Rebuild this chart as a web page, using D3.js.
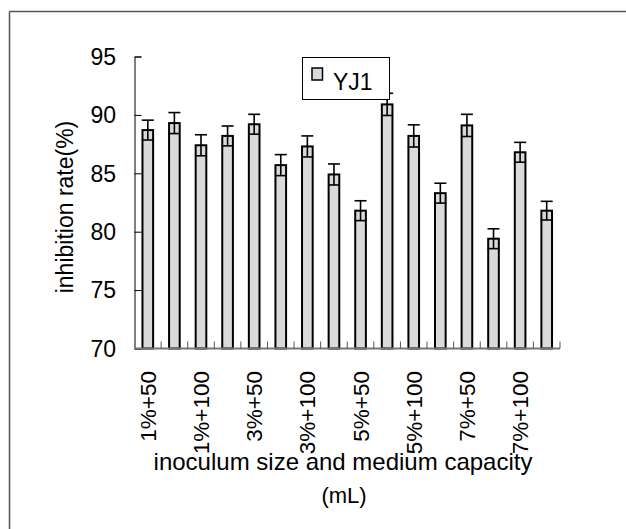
<!DOCTYPE html>
<html>
<head>
<meta charset="utf-8">
<script src="https://cdn.jsdelivr.net/npm/d3@7"></script>
<style>
  body { margin: 0; background: #fff; }
  svg { display: block; font-family: "Liberation Sans", Arial, sans-serif; }
</style>
</head>
<body>
<svg id="chart" width="626" height="529"></svg>
<script>
// 16 treatments, only every other one gets a label on the axis
const categories = [
  "1%+50", "1%+75", "1%+100", "1%+125",
  "3%+50", "3%+75", "3%+100", "3%+125",
  "5%+50", "5%+75", "5%+100", "5%+125",
  "7%+50", "7%+75", "7%+100", "7%+125"
];
const values = [88.7, 89.3, 87.4, 88.2, 89.2, 85.7, 87.3, 84.9,
                81.8, 90.9, 88.2, 83.3, 89.1, 79.4, 86.8, 81.8];
const errors = [0.85, 0.9, 0.9, 0.85, 0.85, 0.9, 0.9, 0.9,
                0.85, 0.95, 0.95, 0.85, 0.95, 0.85, 0.85, 0.8];
const yTicks = [70, 75, 80, 85, 90, 95];
const seriesName = "YJ1";

const svg = d3.select("#chart");

const x = d3.scaleBand()
  .domain(categories)
  .range([134.5, 560])
  .paddingInner(0.6)
  .paddingOuter(0.3);

const y = d3.scaleLinear()
  .domain([70, 95])
  .range([348.5, 56.5]);

// outer frame (only top/left edges are in the picture)
svg.append("line")
  .attr("x1", 9.5).attr("y1", 11.5).attr("x2", 626).attr("y2", 11.5)
  .attr("stroke", "#555").attr("stroke-width", 1.5);
svg.append("line")
  .attr("x1", 9.5).attr("y1", 11.5).attr("x2", 9.5).attr("y2", 529)
  .attr("stroke", "#555").attr("stroke-width", 1.5);

// y axis, ticks pointing inward
const yAxis = svg.append("g")
  .attr("transform", "translate(134.5,0)")
  .call(d3.axisRight(y).tickValues(yTicks).tickSize(7).tickFormat(""));
yAxis.select(".domain").attr("stroke", "#000");
yAxis.selectAll(".tick line").attr("stroke", "#000");

svg.append("g")
  .selectAll("text")
  .data(yTicks)
  .join("text")
  .attr("x", 116)
  .attr("y", d => y(d))
  .attr("dy", "0.36em")
  .attr("text-anchor", "end")
  .attr("font-size", 23)
  .text(d => d);

// bars
svg.append("g")
  .selectAll("rect")
  .data(values)
  .join("rect")
  .attr("x", (d, i) => x(categories[i]))
  .attr("y", d => y(d))
  .attr("width", x.bandwidth())
  .attr("height", d => y(70) - y(d))
  .attr("fill", "#dadada")
  .attr("stroke", "#000")
  .attr("stroke-width", 2);

// error bars
const capW = 12;
const err = svg.append("g").attr("stroke", "#000").attr("stroke-width", 1.6);
values.forEach((v, i) => {
  const cx = x(categories[i]) + x.bandwidth() / 2;
  const hi = y(v + errors[i]);
  const lo = y(v - errors[i]);
  err.append("line").attr("x1", cx).attr("x2", cx).attr("y1", hi).attr("y2", lo);
  err.append("line").attr("x1", cx - capW / 2).attr("x2", cx + capW / 2).attr("y1", hi).attr("y2", hi);
  err.append("line").attr("x1", cx - capW / 2).attr("x2", cx + capW / 2).attr("y1", lo).attr("y2", lo);
});

// x axis with small upward ticks on category boundaries
svg.append("line")
  .attr("x1", 134.5).attr("x2", 560)
  .attr("y1", y(70)).attr("y2", y(70))
  .attr("stroke", "#777").attr("stroke-width", 2);

const step = x.step();
svg.append("g")
  .selectAll("line")
  .data(categories)
  .join("line")
  .attr("x1", d => x(d) - x.paddingOuter() * step + step)
  .attr("x2", d => x(d) - x.paddingOuter() * step + step)
  .attr("y1", y(70))
  .attr("y2", y(70) - 7)
  .attr("stroke", "#555")
  .attr("stroke-width", 1);

svg.append("g")
  .selectAll("text")
  .data(categories.filter((d, i) => i % 2 === 0))
  .join("text")
  .attr("transform", d => `translate(${x(d) + x.bandwidth() / 2},371) rotate(-90)`)
  .attr("dy", "0.36em")
  .attr("text-anchor", "end")
  .attr("font-size", 22.5)
  .text(d => d);

// axis titles
svg.append("text")
  .attr("transform", "translate(73,207) rotate(-90)")
  .attr("text-anchor", "middle")
  .attr("font-size", 23)
  .text("inhibition rate(%)");

svg.append("text")
  .attr("x", 343)
  .attr("y", 470)
  .attr("text-anchor", "middle")
  .attr("font-size", 24)
  .text("inoculum size and medium capacity");
svg.append("text")
  .attr("x", 344)
  .attr("y", 503)
  .attr("text-anchor", "middle")
  .attr("font-size", 22)
  .text("(mL)");

// legend
const legend = svg.append("g");
legend.append("rect")
  .attr("x", 302.5).attr("y", 57.5).attr("width", 87).attr("height", 42)
  .attr("fill", "#fff").attr("stroke", "#000").attr("stroke-width", 1);
legend.append("rect")
  .attr("x", 312).attr("y", 68).attr("width", 10.5).attr("height", 12)
  .attr("fill", "#dadada").attr("stroke", "#000").attr("stroke-width", 1.5);
legend.append("text")
  .attr("x", 333).attr("y", 90)
  .attr("font-size", 23)
  .text(seriesName);
</script>
</body>
</html>
